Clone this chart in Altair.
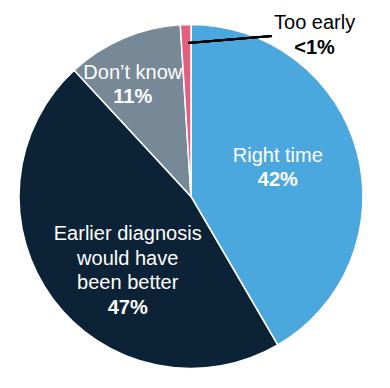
import altair as alt
import pandas as pd

categories = ["Right time", "Earlier diagnosis would have been better", "Don’t know", "Too early"]
values = [42, 47, 11, 1]
pct_labels = ["42%", "47%", "11%", "<1%"]
name_labels = ["Right time", "Earlier diagnosis\nwould have\nbeen better", "Don’t know", "Too early"]
colors = ["#4BA8DF", "#0C2237", "#778896", "#E0607E"]

df = pd.DataFrame({
    "cat": categories,
    "value": values,
    "idx": list(range(len(categories))),
    "name": name_labels,
    "pct": pct_labels,
})

FONT = "Liberation Sans"

base = alt.Chart(df).encode(
    theta=alt.Theta("value:Q", stack=True),
    order=alt.Order("idx:Q"),
)

pie = base.mark_arc(outerRadius=172, stroke="white", strokeWidth=1.5).encode(
    color=alt.Color("cat:N", scale=alt.Scale(domain=categories, range=colors), legend=None),
)


def label(i, field, radius, dx, dy, bold, color):
    return base.transform_calculate(
        lbl=f"datum.idx == {i} ? datum.{field} : ''"
    ).mark_text(
        radius=radius, dx=dx, dy=dy, font=FONT, fontSize=20,
        fontWeight="bold" if bold else "normal", color=color,
        lineBreak="\n", lineHeight=24.5, align="center", baseline="middle",
    ).encode(detail="cat:N", text="lbl:N")


layers = [pie]
# Right time
layers.append(label(0, "name", 92, -2, -16, False, "white"))
layers.append(label(0, "pct", 92, -2, 8, True, "white"))
# Earlier diagnosis
layers.append(label(1, "name", 85, 5, -13, False, "white"))
layers.append(label(1, "pct", 85, 5, 61, True, "white"))
# Don't know
layers.append(label(2, "name", 120, -11, -13, False, "white"))
layers.append(label(2, "pct", 120, -11, 11, True, "white"))
# Too early (outside)
layers.append(label(3, "name", 174, 129, 0, False, "black"))
layers.append(label(3, "pct", 174, 129, 25, True, "black"))

leader = alt.Chart(df).mark_rule(color="black", strokeWidth=2).encode(
    x=alt.value(180), x2=alt.value(264), y=alt.value(35), y2=alt.value(28)
)
layers.append(leader)

chart = alt.layer(*layers).properties(
    width=366, height=377, padding=0, autosize=alt.AutoSizeParams(type="none")
).configure_view(stroke=None)

chart.save("out.html", embed_options={"renderer": "svg", "actions": False})
